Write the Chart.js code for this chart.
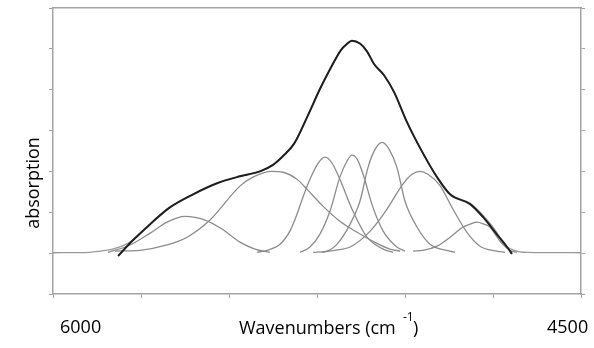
<!DOCTYPE html>
<html>
<head>
<meta charset="utf-8">
<script src="https://cdn.jsdelivr.net/npm/chart.js@4/dist/chart.umd.min.js"></script>
<style>
  html, body { margin: 0; padding: 0; background: #fff; }
</style>
</head>
<body>
<canvas id="chartBands" width="594" height="348"></canvas>
<script>
// measured spectrum (grey) and fitted sum (black)
let specWn = [6000, 5895, 5866, 5830, 5781, 5724, 5668, 5602, 5534, 5469, 5412, 5375, 5347, 5315, 5278, 5242, 5213, 5182, 5165, 5151, 5128, 5108, 5088, 5060, 5031, 4994, 4955, 4909, 4872, 4815, 4778, 4739, 4722, 4690, 4653, 4500];
let specAbs = [0.01, 0.02, 0.05, 0.10, 0.27, 0.71, 1.12, 1.44, 1.71, 1.88, 2.00, 2.16, 2.37, 2.68, 3.33, 4.01, 4.50, 4.97, 5.12, 5.20, 5.13, 4.94, 4.63, 4.36, 3.94, 3.20, 2.54, 1.86, 1.44, 1.22, 0.92, 0.50, 0.24, 0.07, 0.02, 0.01];

let fitWn = [5815, 5776, 5724, 5668, 5602, 5534, 5469, 5412, 5375, 5347, 5315, 5278, 5242, 5213, 5182, 5165, 5151, 5128, 5108, 5088, 5060, 5031, 4994, 4955, 4909, 4872, 4815, 4778, 4739, 4710, 4696];
let fitAbs = [-0.07, 0.29, 0.71, 1.12, 1.44, 1.71, 1.88, 2.00, 2.16, 2.37, 2.68, 3.33, 4.01, 4.50, 4.97, 5.12, 5.20, 5.13, 4.94, 4.63, 4.36, 3.94, 3.20, 2.54, 1.86, 1.44, 1.20, 0.88, 0.46, 0.15, -0.02];

// fitted component bands
let band1Wn = [5844, 5781, 5724, 5676, 5625, 5568, 5520, 5469, 5426, 5384];
let band1Abs = [0.02, 0.20, 0.49, 0.76, 0.90, 0.81, 0.59, 0.27, 0.10, 0.02];

let band2Wn = [5824, 5753, 5676, 5619, 5554, 5469, 5432, 5378, 5347, 5307, 5278, 5233, 5185, 5136, 5091, 5043, 5014];
let band2Abs = [0.05, 0.07, 0.20, 0.39, 0.81, 1.64, 1.86, 2.00, 1.98, 1.81, 1.56, 1.15, 0.78, 0.51, 0.29, 0.10, 0.05];

let band3Wn = [5420, 5392, 5355, 5327, 5307, 5290, 5270, 5247, 5227, 5207, 5185, 5148, 5108, 5062, 5034];
let band3Abs = [0.02, 0.07, 0.22, 0.54, 0.95, 1.37, 1.81, 2.20, 2.35, 2.20, 1.81, 1.03, 0.39, 0.10, 0.02];

let band4Wn = [5298, 5270, 5242, 5213, 5185, 5165, 5151, 5136, 5119, 5091, 5062, 5023, 5000];
let band4Abs = [0.02, 0.15, 0.46, 1.03, 1.86, 2.25, 2.40, 2.30, 1.93, 1.12, 0.54, 0.15, 0.05];

let band5Wn = [5261, 5222, 5193, 5156, 5128, 5105, 5085, 5065, 5045, 5023, 5000, 4966, 4929, 4872, 4858];
let band5Abs = [0.02, 0.05, 0.22, 0.71, 1.27, 2.10, 2.54, 2.71, 2.54, 2.10, 1.27, 0.64, 0.22, 0.05, 0.02];

let band6Wn = [5236, 5199, 5156, 5099, 5051, 5006, 4980, 4957, 4935, 4901, 4864, 4824, 4787, 4739, 4716];
let band6Abs = [0.02, 0.07, 0.15, 0.54, 1.08, 1.69, 1.93, 2.00, 1.93, 1.66, 1.08, 0.51, 0.17, 0.05, 0.02];

let band7Wn = [4977, 4949, 4909, 4872, 4835, 4815, 4795, 4776, 4759, 4730, 4702, 4682];
let band7Abs = [0.05, 0.07, 0.17, 0.39, 0.64, 0.71, 0.76, 0.71, 0.64, 0.29, 0.07, 0.02];

function toPoints(wn, abs) {
  return wn.map((w, i) => ({ x: w, y: abs[i] }));
}

let bandColor = "#8c8c8c";
let axisColor = "#a3a3a3";

function bandSet(wn, abs) {
  return {
    data: toPoints(wn, abs),
    borderColor: bandColor,
    borderWidth: 1.3,
    pointRadius: 0,
    cubicInterpolationMode: "monotone",
    fill: false,
    order: 2,
  };
}

let datasets = [
  {
    data: toPoints(fitWn, fitAbs),
    borderColor: "#1e1e1e",
    borderWidth: 2,
    pointRadius: 0,
    cubicInterpolationMode: "monotone",
    fill: false,
    order: 0,
  },
  {
    data: toPoints(specWn, specAbs),
    borderColor: "#9a9a9a",
    borderWidth: 1.3,
    pointRadius: 0,
    cubicInterpolationMode: "monotone",
    fill: false,
    order: 3,
  },
  bandSet(band1Wn, band1Abs),
  bandSet(band2Wn, band2Abs),
  bandSet(band3Wn, band3Abs),
  bandSet(band4Wn, band4Abs),
  bandSet(band5Wn, band5Abs),
  bandSet(band6Wn, band6Abs),
  bandSet(band7Wn, band7Abs),
];

// axis texts (placed like the original figure's loose text boxes)
const labelsPlugin = {
  id: "labels",
  afterDraw(chart) {
    let ctx = chart.ctx;
    ctx.save();
    ctx.fillStyle = "#000";
    ctx.font = "18px 'Open Sans'";
    ctx.textBaseline = "alphabetic";
    ctx.textAlign = "left";
    ctx.fillText("6000", 60, 333);
    ctx.fillText("4500", 547, 333);
    ctx.fillText("Wavenumbers (cm", 239, 334);
    ctx.fillText(")", 413, 334);
    ctx.font = "12px 'Open Sans'";
    ctx.fillText("-1", 403, 321);
    ctx.translate(39, 183);
    ctx.rotate(-Math.PI / 2);
    ctx.font = "18px 'Open Sans'";
    ctx.textAlign = "center";
    ctx.fillText("absorption", 0, 0);
    ctx.restore();
  },
};

let tickGrid = {
  drawOnChartArea: false,
  drawTicks: true,
  tickLength: 4,
  color: axisColor,
  lineWidth: 1,
};
let axisBorder = { display: true, color: axisColor, width: 1.5 };

new Chart(document.getElementById("chartBands"), {
  type: "line",
  data: { datasets: datasets },
  options: {
    responsive: false,
    animation: false,
    layout: { padding: { left: 49, right: 9, top: 8, bottom: 50 } },
    plugins: { legend: { display: false }, tooltip: { enabled: false } },
    scales: {
      x: {
        type: "linear",
        position: "bottom",
        min: 4500,
        max: 6000,
        reverse: true,
        ticks: { display: false, stepSize: 250 },
        grid: tickGrid,
        border: axisBorder,
      },
      xTop: {
        type: "linear",
        position: "top",
        min: 4500,
        max: 6000,
        ticks: { display: false },
        grid: { display: false, drawTicks: false, tickLength: 0 },
        border: axisBorder,
      },
      y: {
        position: "left",
        min: -1,
        max: 6,
        ticks: { display: false, stepSize: 1 },
        grid: tickGrid,
        border: axisBorder,
      },
      yRight: {
        position: "right",
        min: -1,
        max: 6,
        ticks: { display: false, stepSize: 1 },
        grid: tickGrid,
        border: axisBorder,
      },
    },
  },
  plugins: [labelsPlugin],
});
</script>
</body>
</html>
